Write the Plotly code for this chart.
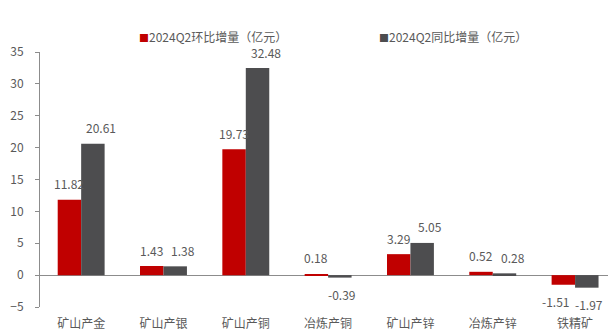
import plotly.graph_objects as go

# 2024Q2 output-value increments by segment (亿元)
categories = ["矿山产金", "矿山产银", "矿山产铜", "冶炼产铜", "矿山产锌", "冶炼产锌", "铁精矿"]
qoq_values = [11.82, 1.43, 19.73, 0.18, 3.29, 0.52, -1.51]
yoy_values = [20.61, 1.38, 32.48, -0.39, 5.05, 0.28, -1.97]
series_names = ["2024Q2环比增量（亿元）", "2024Q2同比增量（亿元）"]
series_colors = ["#C00000", "#4D4D4F"]
y_ticks = [-5, 0, 5, 10, 15, 20, 25, 30, 35]

FONT = "Noto Sans CJK SC, Noto Sans, sans-serif"
TEXT_COLOR = "#595959"
AXIS_COLOR = "#8C8C8C"

fig = go.Figure()
for name, vals, color in zip(series_names, [qoq_values, yoy_values], series_colors):
    fig.add_trace(go.Bar(
        x=categories, y=vals, name=name,
        marker=dict(color=color, line=dict(width=0)),
        showlegend=False,
    ))

# value labels placed just beyond the end of each bar
bar_px = 23.5
for idx, (vals, side) in enumerate([(qoq_values, -1), (yoy_values, 1)]):
    for cat, v in zip(categories, vals):
        if v >= 0:
            nudge = 0 if side < 0 else 8
            ys = 16
        else:
            nudge = -8 if side < 0 else 2
            ys = -17
        fig.add_annotation(
            x=cat, y=v, xref="x", yref="y",
            text=f"{v:.2f}", showarrow=False,
            xanchor="center", yanchor="middle",
            xshift=side * bar_px / 2 + nudge, yshift=ys,
            font=dict(family=FONT, size=12, color=TEXT_COLOR),
        )

# legend row across the top
for name, color, px in zip(series_names, series_colors, [0.171, 0.593]):
    fig.add_annotation(
        x=px, y=1.06, xref="paper", yref="paper",
        text=f"<span style='color:{color};font-size:10px'>■</span>{name}",
        showarrow=False, xanchor="left", yanchor="middle",
        font=dict(family=FONT, size=12, color=TEXT_COLOR),
    )

fig.update_layout(
    width=608, height=331,
    margin=dict(l=40, r=0, t=52, b=24, pad=0),
    paper_bgcolor="white", plot_bgcolor="white",
    barmode="group", bargap=0.43, bargroupgap=0,
    font=dict(family=FONT, size=12, color=TEXT_COLOR),
    showlegend=False,
)
fig.update_xaxes(
    type="category", range=[-0.5, 6.4],
    showline=False, showgrid=False, zeroline=False, ticks="",
    ticklabelstandoff=8,
    tickfont=dict(family=FONT, size=12, color=TEXT_COLOR),
)
fig.update_yaxes(
    range=[-5, 35], tickvals=y_ticks,
    showline=True, linecolor=AXIS_COLOR, linewidth=1,
    ticks="outside", ticklen=4, tickcolor=AXIS_COLOR, tickwidth=1,
    showgrid=False,
    zeroline=True, zerolinecolor=AXIS_COLOR, zerolinewidth=1,
    ticklabelstandoff=9,
    tickfont=dict(family=FONT, size=12, color=TEXT_COLOR),
)

fig.write_html("out.html")
